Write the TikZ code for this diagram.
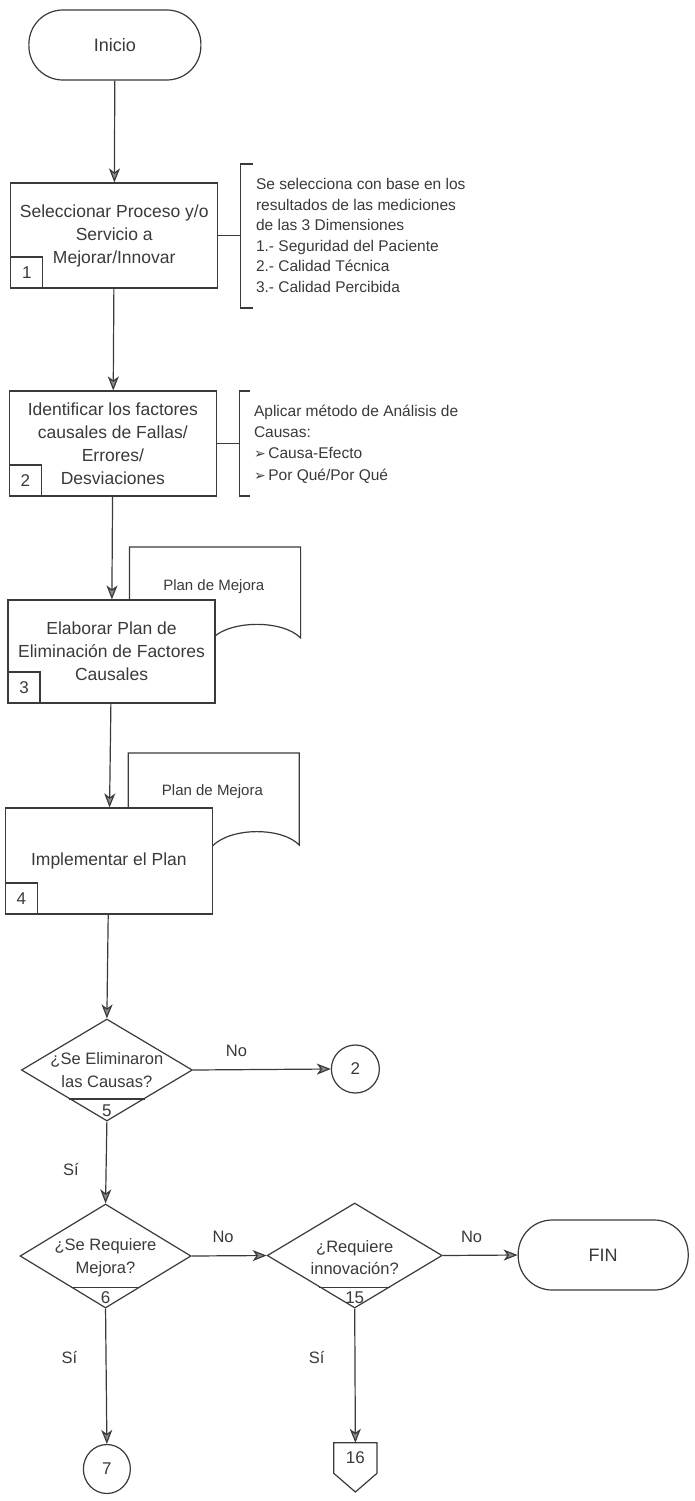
\documentclass[tikz,border=0pt]{standalone}
\usepackage{fontspec}
\setmainfont{Liberation Sans}
\newfontfamily\symfont{DejaVu Sans}
\usetikzlibrary{shapes.geometric,arrows.meta,calc}
\definecolor{ink}{HTML}{3A3A3A}
\definecolor{tipfill}{HTML}{8C8C8C}
\newcommand\boxfont{\fontsize{17.5}{23}\selectfont}
\newcommand\annfont{\fontsize{15.5}{20.6}\selectfont}
\newcommand\docfont{\fontsize{15}{18}\selectfont}
\newcommand\diafont{\fontsize{16.5}{22.5}\selectfont}
\newcommand\numfont{\fontsize{17}{20}\selectfont}
\newcommand\labfont{\fontsize{16.5}{20}\selectfont}
\newcommand\bul{{\symfont\fontsize{14}{14}\selectfont ➢}\,}

\tikzset{
  base/.style={draw=ink, line width=1.2pt, text=ink},
  process/.style={base, rectangle, fill=white, minimum width=207pt,
    minimum height=105pt, inner sep=0pt, align=center, font=\boxfont},
  numbox/.style={base, rectangle, fill=white, minimum width=32pt,
    minimum height=31pt, inner sep=0pt, anchor=south west, font=\numfont},
  term/.style={base, rectangle, rounded corners=34pt, fill=white,
    minimum width=172pt, minimum height=70pt, font=\fontsize{18}{22}\selectfont},
  decision/.style={base, diamond, minimum width=171pt, minimum height=103pt,
    inner sep=0pt},
  conn/.style={base, ellipse, minimum width=48pt, minimum height=48pt,
    inner sep=0pt, font=\numfont},
  txt/.style={text=ink, inner sep=0pt, align=center},
  ann/.style={text=ink, inner sep=0pt, align=left, anchor=west, font=\annfont},
  lab/.style={text=ink, inner sep=0pt, font=\labfont},
  flow/.style={draw=ink, line width=1.2pt,
    -{Stealth[length=14pt, width=11pt, inset=4pt, fill=tipfill]}},
  wire/.style={draw=ink, line width=1.2pt}
}

\begin{document}
\begin{tikzpicture}[x=1.336pt, y=-1pt]
\useasboundingbox (0,0) rectangle (520.21,1501);
\fill[white] (0,0) rectangle (520.21,1501);

% start
\node[term] (start) at (86,45) {Inicio};

% step 1 with its note
\node[process] (s1) at (85.5,235.5) {Seleccionar Proceso y/o\\Servicio a\\Mejorar/Innovar};
\node[numbox] (n1) at (s1.south west) {1};
\coordinate (b1) at (180,235.5);
\draw[wire] (189,164) -- (180,164) -- (180,308) -- (189,308);
\draw[wire] (s1.east) -- (b1);
\node[ann] (a1) at (191.5,235.5) {Se selecciona con base en los\\resultados de las mediciones\\de las 3 Dimensiones\\1.- Seguridad del Paciente\\2.- Calidad Técnica\\3.- Calidad Percibida};

% step 2 with its note
\node[process] (s2) at (84.5,443.5) {Identificar los factores\\causales de Fallas/\\Errores/\\Desviaciones};
\node[numbox] (n2) at (s2.south west) {2};
\coordinate (b2) at (179,443.5);
\draw[wire] (187,391) -- (179,391) -- (179,496) -- (187,496);
\draw[wire] (s2.east) -- (b2);
\node[ann, font=\fontsize{15.5}{21.3}\selectfont] (a2) at (190,444) {Aplicar método de Análisis de\\Causas:\\\bul Causa-Efecto\\\bul Por Qué/Por Qué};

% document behind step 3
\draw[base, fill=white] (97,547) -- (225,547) -- (225,638)
  .. controls (212,620) and (174,620) .. (160,637)
  .. controls (146,654) and (112,656) .. (97,640) -- cycle;
\node[txt, font=\docfont] (doc1) at (160,587) {Plan de Mejora};

% step 3
\node[process, minimum height=103pt] (s3) at (83.5,651.5) {Elaborar Plan de\\Eliminación de Factores\\Causales};
\node[numbox] (n3) at (s3.south west) {3};

% document behind step 4
\draw[base, fill=white] (96,753) -- (224,753) -- (224,845)
  .. controls (211,827) and (173,827) .. (159,846)
  .. controls (145,862) and (111,864) .. (96,848) -- cycle;
\node[txt, font=\docfont] (doc2) at (159,792) {Plan de Mejora};

% step 4
\node[process, minimum height=106pt] (s4) at (81.5,861) {Implementar el Plan};
\node[numbox] (n4) at (s4.south west) {4};

% decision 5
\node[decision, minimum height=102pt] (d5) at (80,1070) {};
\node[txt, font=\diafont] (d5t) at (80,1070) {¿Se Eliminaron\\las Causas?};
\draw[wire] ($(d5.south)!0.44!(d5.west)$) -- ($(d5.south)!0.44!(d5.east)$);
\node[txt, font=\numfont] (d5n) at ($(d5.south)+(0,-11)$) {5};
\node[conn] (c2) at (266,1069) {2};

% decision 6
\node[decision, minimum height=104pt] (d6) at (79,1256) {};
\node[txt, font=\diafont] (d6t) at (79,1257.5) {¿Se Requiere\\Mejora?};
\draw[wire] ($(d6.south)!0.40!(d6.west)$) -- ($(d6.south)!0.40!(d6.east)$);
\node[txt, font=\numfont] (d6n) at ($(d6.south)+(0,-11)$) {6};

% decision 15
\node[decision, minimum width=175pt, minimum height=105pt] (d15) at (265.5,1255.5) {};
\node[txt, font=\diafont] (d15t) at (265.5,1257.5) {¿Requiere\\innovación?};
\draw[wire] ($(d15.south)!0.40!(d15.west)$) -- ($(d15.south)!0.40!(d15.east)$);
\node[txt, font=\numfont] (d15n) at ($(d15.south)+(0,-11)$) {15};

% end
\node[term, minimum width=170pt] (fin) at (451.5,1255) {FIN};

% connectors at the bottom
\node[conn, minimum width=47pt, minimum height=49pt] (c7) at (80,1469) {7};
\node[txt, minimum width=43pt, minimum height=30pt, font=\numfont] (c16) at (266,1458) {16};
\draw[base] (c16.north west) -- (c16.north east) -- (c16.south east)
  -- (266,1492) -- (c16.south west) -- cycle;

% flow
\draw[flow] (start) -- (s1);
\draw[flow] (s1) -- (s2);
\draw[flow] (s2) -- (s3);
\draw[flow] (s3) -- (s4);
\draw[flow] (s4) -- (d5.north);
\draw[flow] (d5.east) -- (c2.west);
\draw[flow] (d5.south) -- (d6.north);
\draw[flow] (d6.east) -- (d15.west);
\draw[flow] (d15.east) -- (fin.west);
\draw[flow] (d6.south) -- (c7.north);
\draw[flow] (d15.south) -- (c16.north);

% branch labels
\node[lab] (l1) at (177,1051) {No};
\node[lab] (l2) at (53,1169) {Sí};
\node[lab] (l3) at (167,1237) {No};
\node[lab] (l4) at (353,1237) {No};
\node[lab] (l5) at (52,1357) {Sí};
\node[lab] (l6) at (237,1357) {Sí};
\end{tikzpicture}
\end{document}
